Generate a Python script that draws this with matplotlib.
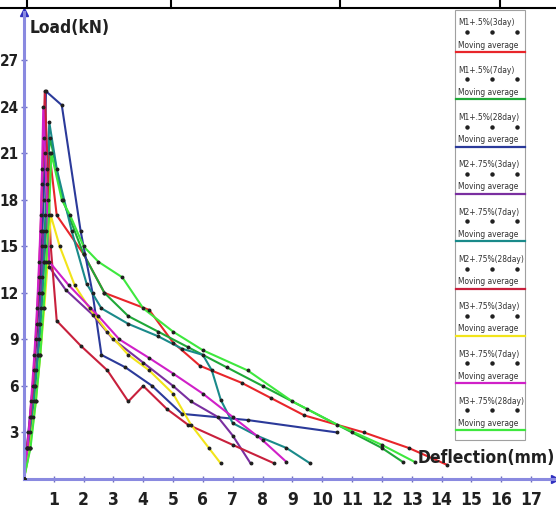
import matplotlib
matplotlib.use("Agg")
import matplotlib.pyplot as plt
from matplotlib.lines import Line2D

plt.rcParams['font.family'] = ['DejaVu Sans']
plt.rcParams['font.stretch'] = 'condensed'

# load-deflection data (deflection mm, load kN)
labels = ["M1+.5%(3day)", "M1+.5%(7day)", "M1+.5%(28day)",
          "M2+.75%(3day)", "M2+.75%(7day)", "M2+.75%(28day)",
          "M3+.75%(3day)", "M3+.75%(7day)", "M3+.75%(28day)"]
colors = ["#e8262b", "#1fa838", "#2b3a9a",
          "#7a2fa0", "#1a8a8a", "#c8203c",
          "#f2e41a", "#d020c8", "#3ee83e"]

m1_3_x = [0, 0.12, 0.25, 0.36, 0.46, 0.55, 0.62, 0.68, 0.74, 0.8, 0.86, 1.1, 2.0, 2.7, 4.2, 5.0, 5.9, 7.3, 8.3, 9.4, 11.4, 12.9, 14.2]
m1_3_y = [0, 2, 4, 6, 8, 10, 12, 14, 16, 18, 21, 17, 14.5, 12, 10.9, 8.8, 7.3, 6.2, 5.2, 4.1, 3.0, 2.0, 0.9]

m1_7_x = [0, 0.2, 0.35, 0.48, 0.58, 0.66, 0.72, 0.78, 0.88, 1.3, 2.0, 2.7, 3.5, 4.5, 5.5, 6.8, 8.0, 9.5, 11.0, 12.0, 12.7]
m1_7_y = [0, 2, 5, 8, 11, 14, 17, 20, 22, 18, 14.5, 12, 10.5, 9.5, 8.5, 7.2, 6.0, 4.5, 3.0, 2.0, 1.1]

m1_28_x = [0, 0.15, 0.3, 0.42, 0.52, 0.6, 0.66, 0.7, 0.74, 1.27, 1.9, 2.3, 2.6, 3.4, 4.3, 5.3, 7.5, 10.5]
m1_28_y = [0, 3, 6, 9, 12, 15, 18, 21, 25, 24.1, 16, 12, 8, 7.2, 6, 4.2, 3.8, 3.0]

m2_3_x = [0, 0.15, 0.3, 0.42, 0.52, 0.6, 0.65, 0.84, 1.4, 2.3, 3.0, 4.0, 5.0, 5.6, 6.5, 7.0, 7.6]
m2_3_y = [0, 2, 4, 7, 10, 13, 16, 13.7, 12.2, 10.6, 9.0, 7.5, 6.0, 5.0, 4.0, 2.8, 1.0]

m2_7_x = [0, 0.2, 0.38, 0.52, 0.62, 0.7, 0.78, 0.85, 1.1, 1.6, 2.1, 2.6, 3.5, 4.5, 5.3, 6.0, 6.3, 6.6, 7.0, 7.8, 8.8, 9.6]
m2_7_y = [0, 3, 6, 9, 12, 15, 19, 23, 20, 16, 12.6, 11, 10, 9.2, 8.4, 8.0, 7.0, 5.1, 3.6, 2.8, 2.0, 1.0]

m2_28_x = [0, 0.1, 0.22, 0.33, 0.43, 0.5, 0.56, 0.61, 0.66, 0.7, 0.9, 1.1, 1.9, 2.8, 3.5, 4.0, 4.8, 5.5, 7.0, 8.4]
m2_28_y = [0, 2, 4, 7, 10, 13, 16, 19, 22, 25, 15, 10.2, 8.6, 7.0, 5.0, 6.0, 4.5, 3.5, 2.2, 1.0]

m3_3_x = [0, 0.2, 0.4, 0.55, 0.68, 0.8, 0.9, 1.2, 1.7, 2.2, 2.8, 3.5, 4.2, 5.0, 5.6, 6.2, 6.6]
m3_3_y = [0, 2, 5, 8, 11, 14, 17, 15, 12.5, 11, 9.5, 8, 7, 5.5, 3.5, 2, 1.0]

m3_7_x = [0, 0.12, 0.24, 0.35, 0.44, 0.51, 0.57, 0.61, 0.65, 0.85, 1.5, 2.5, 3.2, 4.2, 5.0, 6.0, 7.0, 8.0, 8.8]
m3_7_y = [0, 2, 5, 8, 11, 14, 17, 20, 24, 14, 12.5, 10.5, 9.0, 7.8, 6.8, 5.5, 4.0, 2.5, 1.1]

m3_28_x = [0, 0.22, 0.4, 0.55, 0.66, 0.75, 0.84, 0.92, 1.27, 1.55, 2.0, 2.5, 3.3, 4.0, 5.0, 6.0, 7.5, 9.0, 10.5, 12.0, 13.1]
m3_28_y = [0, 2, 5, 8, 11, 14, 17, 21, 18, 17, 15, 14, 13, 11, 9.5, 8.3, 7.0, 5.0, 3.5, 2.2, 1.1]

xs = [m1_3_x, m1_7_x, m1_28_x, m2_3_x, m2_7_x, m2_28_x, m3_3_x, m3_7_x, m3_28_x]
ys = [m1_3_y, m1_7_y, m1_28_y, m2_3_y, m2_7_y, m2_28_y, m3_3_y, m3_7_y, m3_28_y]

xticks = list(range(1, 18))
yticks = [3, 6, 9, 12, 15, 18, 21, 24, 27]

fig = plt.figure(figsize=(5.56, 5.13), dpi=100)
ax = fig.add_axes([0.043, 0.0663, 0.955, 0.910])

for x, y, c in zip(xs, ys, colors):
    ax.plot(x, y, color=c, lw=1.5, zorder=2)
    ax.plot(x, y, 'o', color="#202020", ms=1.8, zorder=4)

ax.set_xlim(0, 17.8)
ax.set_ylim(0, 30.1)
axis_col = "#8a8ae0"
for s in ["top", "right"]:
    ax.spines[s].set_visible(False)
for s in ["left", "bottom"]:
    ax.spines[s].set_color(axis_col)
    ax.spines[s].set_linewidth(2.2)
ax.set_xticks(xticks)
ax.set_yticks(yticks)
ax.tick_params(direction='inout', length=5, width=1, color="#7070c0",
               labelsize=11, pad=1)
ax.tick_params(axis='x', labelsize=12.5, pad=6)
for t in ax.get_xticklabels() + ax.get_yticklabels():
    t.set_fontweight('bold')
    t.set_color("#202020")
    t.set_fontstretch('condensed')

# arrow heads on the axes
ax.plot(1, 0, '>', color="#3030c0", ms=6, transform=ax.get_yaxis_transform(), clip_on=False)
ax.plot(0, 1, '^', color="#3030c0", ms=6, transform=ax.get_xaxis_transform(), clip_on=False)

ax.text(0.01, 0.985, "Load(kN)", transform=ax.transAxes, fontsize=12.5,
        fontweight='bold', fontstretch='condensed', color="#202020", va='top', ha='left')
ax.text(1.0, 0.045, "Deflection(mm)", transform=ax.transAxes, fontsize=12.5,
        fontweight='bold', fontstretch='condensed', color="#202020", va='center', ha='right')

# legend drawn as a boxed column
W, H = 556.0, 513.0
def fx(px):
    return px / W
def fy(py):
    return 1 - py / H

fig.add_artist(plt.Rectangle((fx(455), fy(440)), fx(525) - fx(455), fy(10) - fy(440),
                             facecolor='white', edgecolor='#a0a0a0', lw=0.8, zorder=5))
for i, (lab, c) in enumerate(zip(labels, colors)):
    top = 23 + i * 47.3
    fig.text(fx(458), fy(top), lab, fontsize=6, va='center', ha='left', color="#303030", zorder=6)
    for dx in [467, 492, 517]:
        fig.add_artist(Line2D([fx(dx)], [fy(top + 9)], marker='o', ms=2.2, color="#202020", zorder=6))
    fig.text(fx(458), fy(top + 22), "Moving average", fontsize=6, va='center', ha='left', color="#303030", zorder=6)
    fig.add_artist(Line2D([fx(456), fx(525)], [fy(top + 29)] * 2, color=c, lw=1.6, zorder=6))

# table border remnants at the top
fig.add_artist(Line2D([0, 1], [fy(8), fy(8)], color='black', lw=1.5))
for vx in [27, 171, 340, 500]:
    fig.add_artist(Line2D([fx(vx), fx(vx)], [fy(0), fy(8)], color='black', lw=1.5))

fig.savefig("out.png", dpi=100)
